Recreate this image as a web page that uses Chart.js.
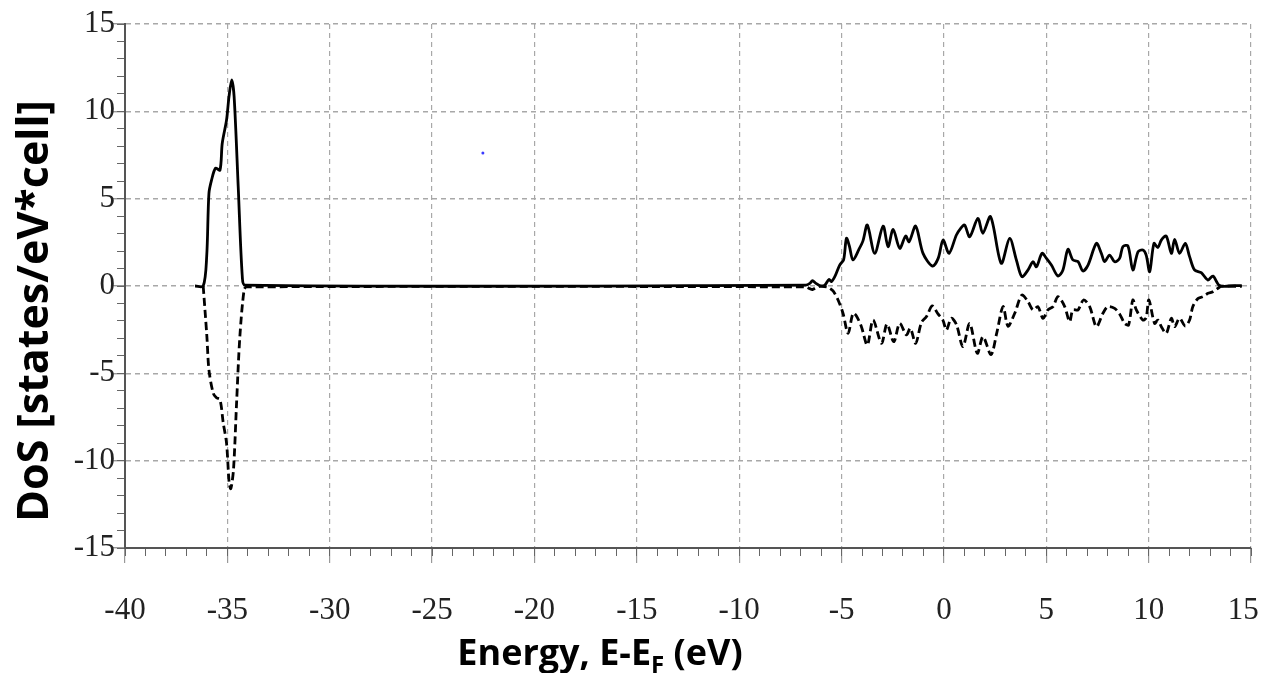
<!DOCTYPE html>
<html><head><meta charset="utf-8">
<script src="https://cdn.jsdelivr.net/npm/chart.js@4.4.1/dist/chart.umd.min.js"></script>
<style>html,body{margin:0;padding:0;background:#fff;}canvas{display:block;}</style>
</head><body>
<canvas id="c" width="1263" height="673"></canvas>
<script>
const xTickLabels = [-40,-35,-30,-25,-20,-15,-10,-5,0,5,10,15];
const yTickLabels = [-15,-10,-5,0,5,10,15];
const xTitleMain = 'Energy, E-E';
const xTitleSub = 'F';
const xTitleEnd = ' (eV)';
const yTitle = 'DoS [states/eV*cell]';

// spin up (solid)
const upEnergy = [-36.58,-36.18,-36.01,-35.9,-35.77,-35.58,-35.36,-35.25,-35.04,-34.92,-34.79,-34.67,-34.47,-34.27,-34.14,
 -6.75,-6.55,-6.42,-6.25,-6.06,-5.82,-5.61,-5.5,-5.33,-5.09,-4.9,-4.76,-4.62,-4.44,-4.15,-3.95,-3.74,-3.38,-2.97,-2.73,-2.48,-2.16,-1.87,-1.7,-1.38,-1.02,-0.56,-0.28,-0.04,
 0.25,0.61,0.82,1.01,1.26,1.66,1.9,2.28,2.8,3.21,3.54,3.81,4.11,4.35,4.52,4.79,5.0,5.25,5.57,5.81,6.06,6.3,6.55,6.79,7.04,7.45,7.69,7.85,8.09,8.34,8.58,8.74,8.99,
 9.23,9.48,9.72,9.88,10.05,10.26,10.45,10.62,10.86,11.11,11.27,11.51,11.79,12.0,12.24,12.57,12.9,13.14,13.47,14.2,14.55];
const upDos = [0,0,1.68,5.3,6.07,6.74,6.64,8.17,9.5,10.84,11.8,10.84,5.68,0.53,0.05,
 0.05,0.15,0.3,0.15,0.02,0.05,0.38,0.25,0.53,1.2,1.5,2.73,2.3,1.49,2.1,2.6,3.49,1.87,3.43,2.25,3.24,2.16,2.86,2.54,3.43,1.87,1.14,1.58,2.63,
 1.87,2.92,3.3,3.49,2.82,3.87,3.02,3.97,1.3,2.73,1.49,0.53,0.92,1.39,1.1,1.87,1.6,1.2,0.57,0.9,2.1,1.49,1.4,0.86,1.2,2.44,1.87,1.39,1.77,1.39,1.58,2.25,2.29,
 0.92,1.96,2.06,1.77,0.82,2.44,2.2,2.63,2.86,1.87,2.67,1.87,2.44,1.68,0.92,0.76,0.34,0.57,0.02,0.02,0.02];

// spin down (dashed)
const downEnergy = [-36.18,-36.0,-35.9,-35.69,-35.53,-35.36,-35.2,-35.04,-34.91,-34.83,-34.7,-34.55,-34.39,-34.18,-34.05,
 -6.75,-6.55,-6.42,-6.25,-6.06,-5.7,-5.55,-5.4,-5.17,-4.93,-4.68,-4.44,-4.28,-4.03,-3.74,-3.46,-3.05,-2.78,-2.45,-2.16,-1.83,-1.64,-1.38,-1.1,-0.85,-0.57,-0.29,-0.05,
 0.12,0.36,0.61,0.93,1.26,1.63,1.91,2.3,2.58,2.89,3.13,3.46,3.81,4.11,4.35,4.59,4.84,5.08,5.33,5.57,5.9,6.14,6.3,6.55,6.82,7.12,7.45,7.77,8.01,8.34,8.58,8.83,9.02,
 9.23,9.4,9.72,9.88,10.01,10.29,10.45,10.62,10.86,11.11,11.27,11.51,11.79,12.0,12.16,12.41,12.65,12.9,13.14,13.39,13.55,14.55];
const downDos = [0,-2.9,-4.8,-6.14,-6.4,-6.5,-7.85,-9.0,-11.3,-11.6,-10.5,-6.7,-2.9,-0.2,-0.05,
 -0.05,-0.15,-0.2,-0.1,-0.02,-0.05,-0.15,-0.3,-0.8,-1.56,-2.71,-1.56,-1.7,-2.33,-3.38,-1.95,-3.28,-2.18,-3.19,-2.14,-2.8,-2.42,-3.28,-2.1,-1.75,-1.14,-1.6,-1.95,
 -2.52,-1.85,-2.2,-3.47,-2.14,-3.85,-2.9,-3.93,-2.7,-1.18,-2.3,-1.56,-0.52,-0.9,-1.37,-1.18,-1.85,-1.37,-1.18,-0.61,-1.18,-2.04,-1.37,-1.37,-0.8,-1.18,-2.33,-1.56,-1.18,-1.28,-1.6,-2.14,-2.23,
 -0.8,-1.37,-1.95,-1.8,-0.8,-2.14,-1.95,-2.33,-2.71,-1.85,-2.33,-1.85,-2.29,-1.95,-1.18,-0.71,-0.61,-0.42,-0.33,-0.13,-0.02,-0.02];

// stray blue dot
const strayEnergy = [-22.52];
const strayDos = [7.61];

const toPts = (xs, ys) => xs.map((x, i) => ({x, y: ys[i]}));

const titles = {
  id: 'titles',
  afterDraw(chart) {
    const ctx = chart.ctx;
    ctx.save();
    ctx.fillStyle = '#000';
    ctx.translate(36, 311);
    ctx.rotate(-Math.PI / 2);
    ctx.font = 'bold 43px "Open Sans"';
    ctx.textAlign = 'center';
    ctx.textBaseline = 'middle';
    ctx.fillText(yTitle, 0, 0);
    ctx.restore();

    ctx.save();
    ctx.fillStyle = '#000';
    const mainFont = 'bold 36px "Open Sans"';
    const subFont = 'bold 24px "Open Sans"';
    ctx.textBaseline = 'alphabetic';
    ctx.font = mainFont;
    const w1 = ctx.measureText(xTitleMain).width;
    const w3 = ctx.measureText(xTitleEnd).width;
    ctx.font = subFont;
    const w2 = ctx.measureText(xTitleSub).width;
    let x = 600 - (w1 + w2 + w3) / 2;
    const base = 665;
    ctx.font = mainFont; ctx.textAlign = 'left';
    ctx.fillText(xTitleMain, x, base); x += w1;
    ctx.font = subFont; ctx.fillText(xTitleSub, x, base + 8); x += w2;
    ctx.font = mainFont; ctx.fillText(xTitleEnd, x, base);
    ctx.restore();
  }
};

Chart.defaults.font.family = '"Liberation Serif", serif';
Chart.defaults.color = '#222';

const lastX = xTickLabels[xTickLabels.length - 1];

new Chart(document.getElementById('c'), {
  type: 'line',
  data: {
    datasets: [
      { data: toPts(upEnergy, upDos), borderColor: '#000', borderWidth: 2.8, pointRadius: 0, tension: 0.3, fill: false },
      { data: toPts(downEnergy, downDos), borderColor: '#000', borderWidth: 2.8, borderDash: [8, 4], pointRadius: 0, tension: 0.3, fill: false },
      { type: 'scatter', data: toPts(strayEnergy, strayDos), pointRadius: 1.5, pointBackgroundColor: '#3a3aff', pointBorderWidth: 0, showLine: false }
    ]
  },
  options: {
    responsive: false,
    devicePixelRatio: 1,
    animation: false,
    events: [],
    layout: { padding: { top: 24, right: 12, left: 0, bottom: 0 }, autoPadding: false },
    plugins: { legend: { display: false }, tooltip: { enabled: false } },
    scales: {
      x: {
        type: 'linear', min: -40, max: 15,
        afterFit: s => { s.height = 125; s.paddingLeft = 0; s.paddingRight = 0; },
        ticks: { stepSize: 5, autoSkip: false, maxRotation: 0, padding: 29, font: { size: 31 },
          callback: v => xTickLabels.includes(v) ? (v === lastX ? String(v) + '\u00a0\u00a0' : String(v)) : '' },
        grid: { color: '#a8a8a8', lineWidth: 1.2, tickLength: 15, tickColor: '#999', tickWidth: 1.2 },
        border: { display: true, color: '#555', width: 2, dash: [5, 4] }
      },
      y: {
        type: 'linear', min: -15, max: 15,
        afterFit: s => { s.width = 125; s.paddingTop = 0; s.paddingBottom = 0; },
        ticks: { stepSize: 5, autoSkip: false, padding: -3, font: { size: 31 },
          callback: v => yTickLabels.includes(v) ? String(v) : '' },
        grid: { color: '#a8a8a8', lineWidth: 1.4, tickLength: 13, tickColor: '#999', tickWidth: 1.4 },
        border: { display: true, color: '#555', width: 2, dash: [5, 4] }
      },
      xMinor: {
        type: 'linear', axis: 'x', position: { y: -15 }, min: -40, max: 15,
        afterFit: s => { s.height = 0; s.paddingLeft = 0; s.paddingRight = 0; },
        ticks: { stepSize: 1, display: false },
        grid: { drawOnChartArea: false, tickLength: 8, tickColor: '#666', tickWidth: 1 },
        border: { display: false }
      },
      yMinor: {
        type: 'linear', axis: 'y', position: { x: -40 }, min: -15, max: 15,
        afterFit: s => { s.width = 0; s.paddingTop = 0; s.paddingBottom = 0; },
        ticks: { stepSize: 1, display: false },
        grid: { drawOnChartArea: false, tickLength: 8, tickColor: '#666', tickWidth: 1 },
        border: { display: false }
      }
    }
  },
  plugins: [titles]
});
</script>
</body></html>
